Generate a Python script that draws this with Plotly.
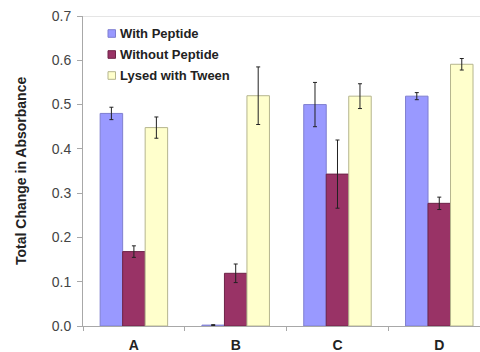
import plotly.graph_objects as go

# Sample groups and measured absorbance changes
groups = ["A", "B", "C", "D"]
with_peptide = [0.480, 0.002, 0.500, 0.519]
with_peptide_err = [0.014, 0.001, 0.050, 0.008]
without_peptide = [0.168, 0.119, 0.343, 0.277]
without_peptide_err = [0.013, 0.021, 0.077, 0.014]
lysed_tween = [0.448, 0.520, 0.519, 0.591]
lysed_tween_err = [0.024, 0.065, 0.028, 0.013]

series_names = ["With Peptide", "Without Peptide", "Lysed with Tween"]
series_values = [with_peptide, without_peptide, lysed_tween]
series_errors = [with_peptide_err, without_peptide_err, lysed_tween_err]
fills = ["#9999FF", "#993366", "#FFFFCC"]
edges = ["#7F7FD0", "#6E2448", "#B5B58E"]

FONT = "Liberation Sans, Arial, sans-serif"
W, H = 480, 352
ML, MR, MT, MB = 83, 0, 16, 26
PW, PH = W - ML - MR, H - MT - MB

fig = go.Figure()
for name, vals, errs, fill, edge in zip(series_names, series_values, series_errors, fills, edges):
    fig.add_trace(go.Bar(
        name=name,
        x=groups,
        y=vals,
        showlegend=False,
        marker=dict(color=fill, line=dict(color=edge, width=1)),
        error_y=dict(type="data", array=errs, visible=True,
                     color="#222222", thickness=1, width=2),
    ))

# Compact legend in the upper-left corner: small swatch + bold label per series
shapes = [dict(type="line", xref="paper", yref="y", x0=0, x1=1, y0=0.7, y1=0.7,
               line=dict(color="#CCCCCC", width=1))]
annotations = []
row_px = [33.5, 54.5, 75.5]
for name, fill, edge, ypx in zip(series_names, fills, edges, row_px):
    yc = 1 - (ypx - MT) / PH
    half = 3.8 / PH
    x0 = (108 - ML) / PW
    x1 = (115.5 - ML) / PW
    shapes.append(dict(type="rect", xref="paper", yref="paper",
                       x0=x0, x1=x1, y0=yc - half, y1=yc + half,
                       fillcolor=fill, line=dict(color=edge, width=1)))
    annotations.append(dict(
        text=f"<b>{name}</b>", xref="paper", yref="paper",
        x=(118 - ML) / PW, y=yc, xanchor="left", yanchor="middle",
        showarrow=False, font=dict(family=FONT, size=13, color="#222222"),
    ))

annotations.append(dict(
    text="<b>Total Change in Absorbance</b>", textangle=-90,
    xref="paper", yref="paper", x=(21 - ML) / PW, y=0.5,
    xanchor="center", yanchor="middle", showarrow=False,
    font=dict(family=FONT, size=14, color="#222222"),
))

fig.update_layout(
    width=W, height=H,
    margin=dict(l=ML, r=MR, t=MT, b=MB),
    paper_bgcolor="white", plot_bgcolor="white",
    barmode="group", bargap=0.337, bargroupgap=0,
    font=dict(family=FONT, color="#333333"),
    showlegend=False,
    xaxis=dict(
        type="category", range=[-0.5, 3.4],
        showline=True, linecolor="#A8A8A8", linewidth=1,
        ticks="outside", ticklen=4, tickcolor="#A8A8A8", tickson="boundaries",
        tickfont=dict(family=FONT, size=14, color="#222222", weight="bold"),
        ticklabelstandoff=6,
        showgrid=False, zeroline=False,
    ),
    yaxis=dict(
        range=[0, 0.7], dtick=0.1, tickformat=".1f",
        showline=True, linecolor="#A8A8A8", linewidth=1,
        ticks="outside", ticklen=5, tickcolor="#A8A8A8",
        tickfont=dict(family=FONT, size=14, color="#444444"),
        ticklabelstandoff=3,
        showgrid=False, zeroline=False,
    ),
    shapes=shapes,
    annotations=annotations,
)

fig.write_html("out.html")
